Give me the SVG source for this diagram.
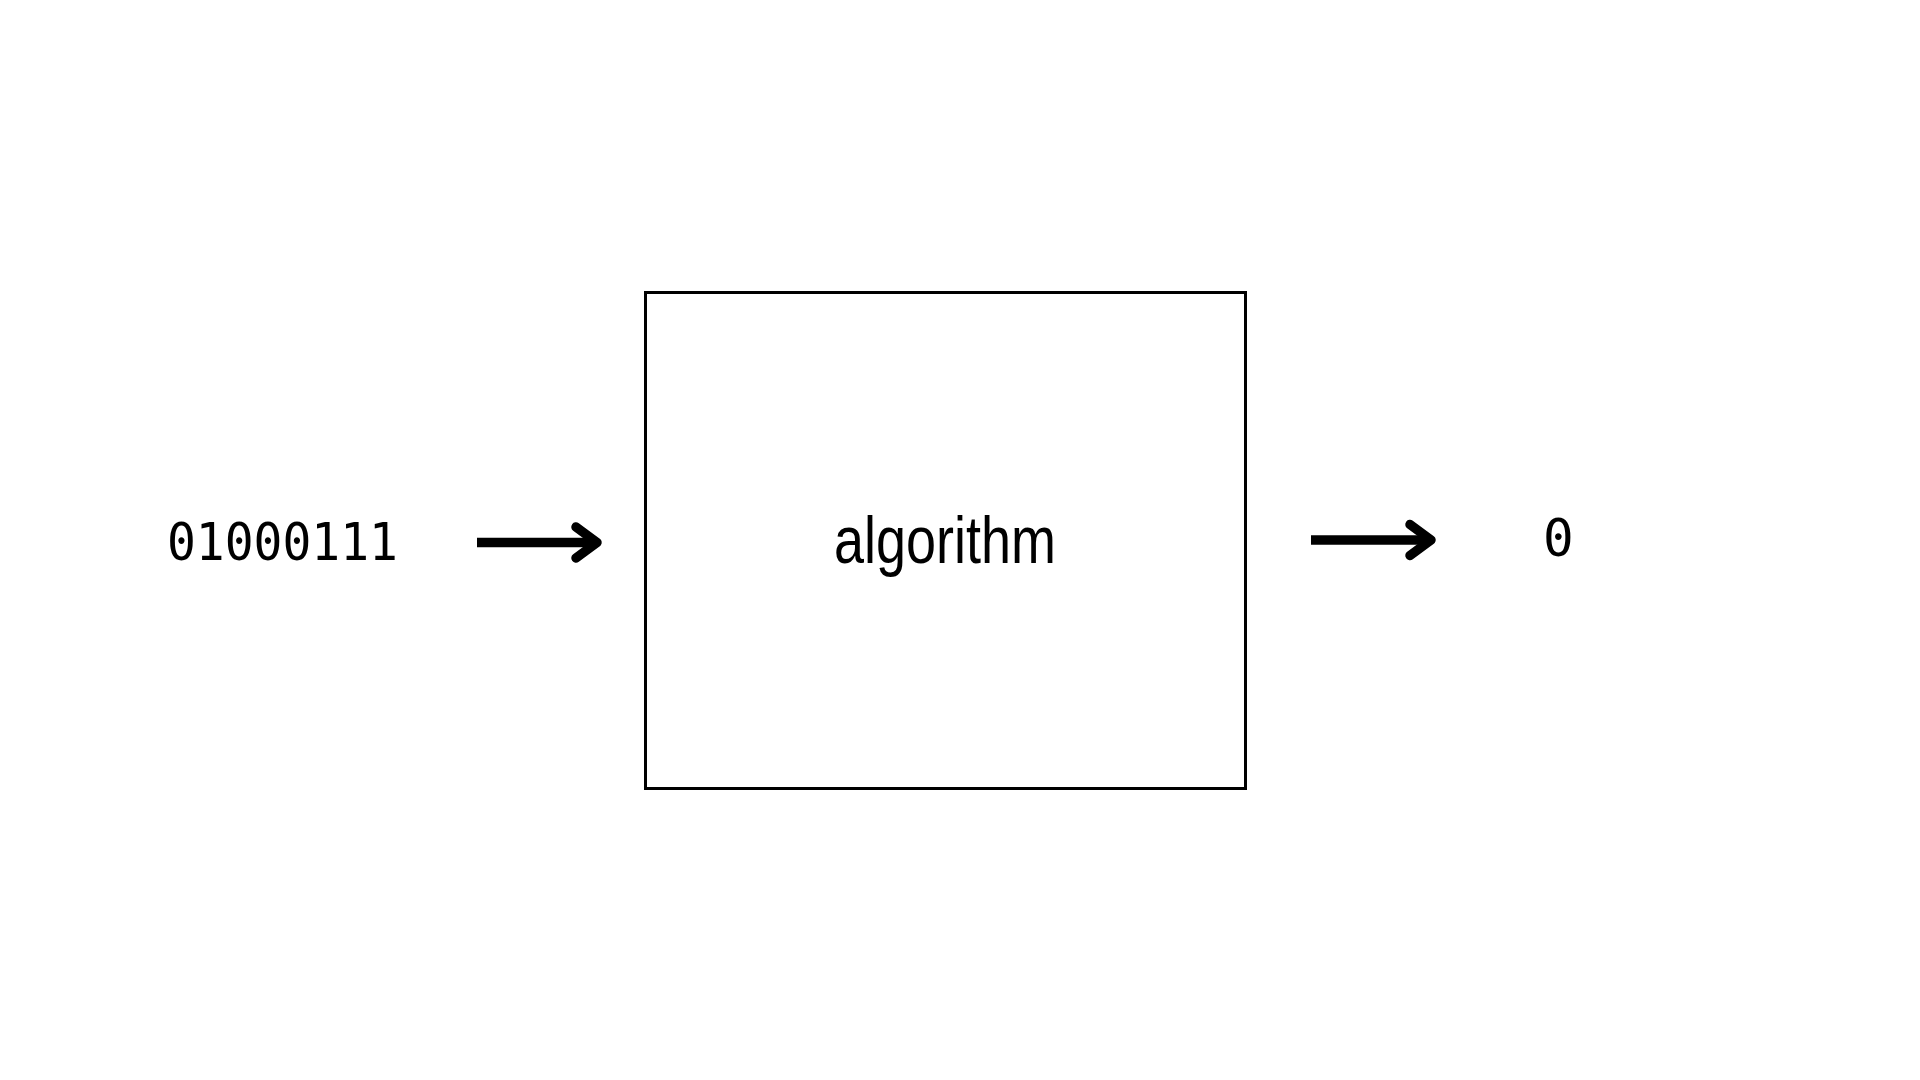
<svg xmlns="http://www.w3.org/2000/svg" width="1920" height="1080" viewBox="0 0 1920 1080">
  <style>
    .mono { font-family: "DejaVu Sans Mono", "Liberation Mono", monospace; font-size: 51px; fill: #000; }
    .label { font-family: "Liberation Sans Narrow", "Liberation Sans", sans-serif; font-size: 66px; fill: #000; }
    .box { fill: #fff; stroke: #000; stroke-width: 3; }
    .arrow { fill: none; stroke: #000; stroke-width: 9.5; stroke-linejoin: round; }
    .head { stroke-linecap: round; }
  </style>
  <rect width="1920" height="1080" fill="#fff"/>
  <g id="input">
    <text class="mono" x="167" y="560" textLength="231" lengthAdjust="spacingAndGlyphs">01000111</text>
  </g>
  <g id="algorithm">
    <rect class="box" x="645.5" y="292.5" width="600" height="496"/>
    <text class="label" x="945" y="563" text-anchor="middle" textLength="222" lengthAdjust="spacingAndGlyphs">algorithm</text>
  </g>
  <g id="output">
    <text class="mono" x="1543" y="556">0</text>
  </g>
  <g id="connectors">
    <g class="arrow">
      <line x1="477" y1="542.5" x2="596" y2="542.5"/>
      <polyline class="head" points="576,527 597,542.5 576,558"/>
    </g>
    <g class="arrow">
      <line x1="1311" y1="540" x2="1430" y2="540"/>
      <polyline class="head" points="1410,524.5 1431,540 1410,555.5"/>
    </g>
  </g>
</svg>
